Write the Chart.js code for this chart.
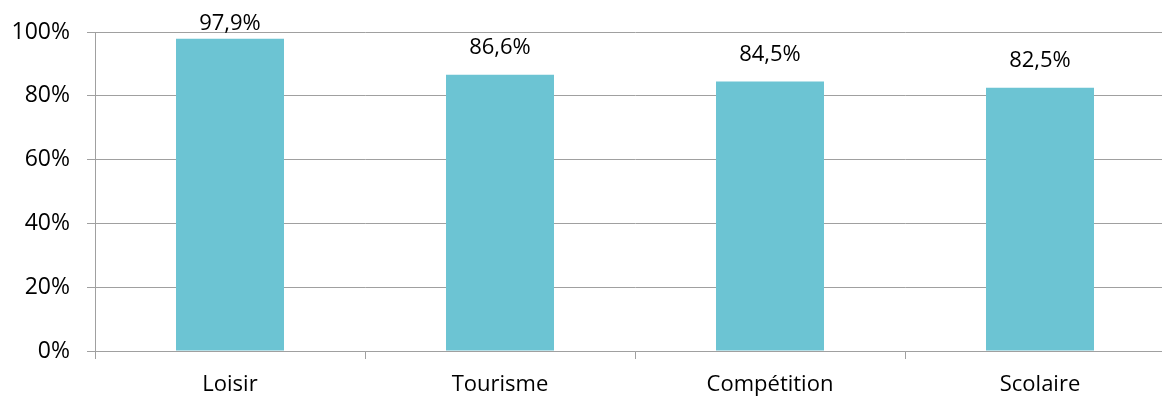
<!DOCTYPE html>
<html>
<head>
<meta charset="utf-8">
<script src="https://cdn.jsdelivr.net/npm/chart.js@4/dist/chart.umd.min.js"></script>
<style>
  html, body { margin: 0; padding: 0; background: #fff; overflow: hidden; }
  #wrap { width: 1162px; height: 396px; overflow: hidden; }
  canvas { display: block; }
</style>
</head>
<body>
<div id="wrap"><canvas id="c" width="1190" height="396"></canvas></div>
<script>
const categories = ['Loisir', 'Tourisme', 'Compétition', 'Scolaire'];
const values = [97.9, 86.6, 84.5, 82.5];
const yTicks = [0, 20, 40, 60, 80, 100];

const FONT = '"Open Sans", "Noto Sans", sans-serif';
const GRID = '#a0a0a0';

// Value labels above each bar, kept inside the top of the canvas
const valueLabels = {
  id: 'valueLabels',
  afterDatasetsDraw(chart) {
    const ctx = chart.ctx;
    const meta = chart.getDatasetMeta(0);
    ctx.save();
    ctx.font = '22px ' + FONT;
    ctx.fillStyle = '#000';
    ctx.textAlign = 'center';
    ctx.textBaseline = 'middle';
    meta.data.forEach((bar, i) => {
      const txt = values[i].toFixed(1).replace('.', ',') + '%';
      const y = Math.max(bar.y - 27, 24);
      ctx.fillText(txt, bar.x, y);
    });
    ctx.restore();
  }
};

new Chart(document.getElementById('c'), {
  type: 'bar',
  data: {
    labels: categories,
    datasets: [{
      data: values,
      backgroundColor: '#6cc4d3',
      borderWidth: 0,
      barPercentage: 0.4,
      categoryPercentage: 1.0
    }]
  },
  options: {
    responsive: false,
    animation: false,
    layout: { padding: { top: 32, right: 15, left: 0, bottom: 0 } },
    plugins: { legend: { display: false }, tooltip: { enabled: false } },
    scales: {
      x: {
        grid: { display: true, drawOnChartArea: false, drawTicks: true, tickLength: 8, color: GRID, offset: true },
        border: { display: true, color: GRID, width: 1 },
        ticks: { color: '#000', font: { family: FONT, size: 22 }, padding: 13 },
        afterFit(s) { s.height = 45; }
      },
      y: {
        min: 0, max: 100,
        afterBuildTicks(s) { s.ticks = yTicks.map(v => ({ value: v })); },
        grid: { color: GRID, tickLength: 8, drawTicks: true },
        border: { display: true, color: GRID, width: 1 },
        ticks: { color: '#000', font: { family: FONT, size: 23 }, padding: 17, callback: v => v + '%' },
        afterFit(s) { s.width = 95; }
      }
    }
  },
  plugins: [valueLabels]
});
</script>
</body>
</html>
